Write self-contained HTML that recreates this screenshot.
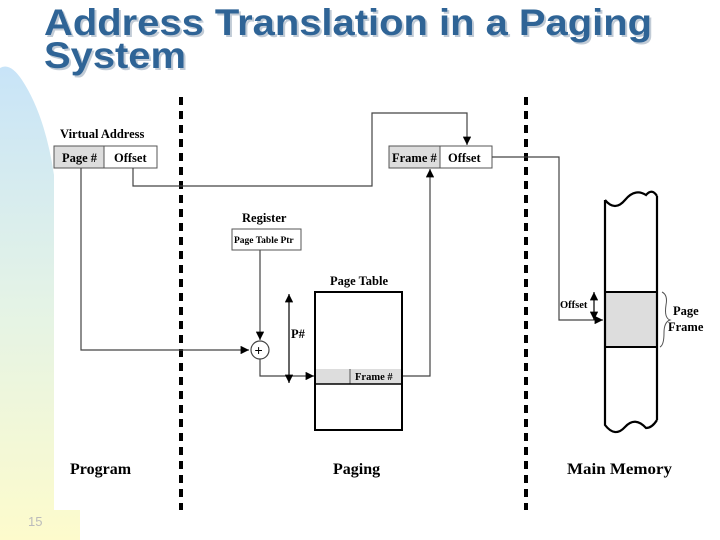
<!DOCTYPE html>
<html><head><meta charset="utf-8"><style>
html,body{margin:0;padding:0;background:#fff;}
svg{display:block;}
.t{font-family:"Liberation Serif",serif;font-weight:bold;fill:#000;}
</style></head><body>
<svg width="720" height="540" viewBox="0 0 720 540" xmlns="http://www.w3.org/2000/svg">
<defs>
<linearGradient id="g" x1="0" y1="0" x2="0" y2="1">
<stop offset="0" stop-color="#c8e4f8"/>
<stop offset="0.5" stop-color="#e4f3e6"/>
<stop offset="1" stop-color="#fdfbcc"/>
</linearGradient>
<marker id="a" viewBox="0 0 10 10" refX="10" refY="5" markerWidth="7" markerHeight="7" orient="auto-start-reverse"><path d="M0,0L10,5L0,10z" fill="#000"/></marker>
</defs>
<path d="M0,68 Q10,62 22,80 Q45,115 54,175 L54,510 L80,510 L80,540 L0,540 Z" fill="url(#g)"/>
<g font-family="Liberation Sans,sans-serif" font-weight="bold" font-size="37">
<text x="46" y="37" fill="#9ab" opacity="0.6" textLength="608" lengthAdjust="spacingAndGlyphs">Address Translation in a Paging</text>
<text x="46" y="70" fill="#9ab" opacity="0.6" textLength="142" lengthAdjust="spacingAndGlyphs">System</text>
<text x="44" y="35" fill="#2f6496" textLength="608" lengthAdjust="spacingAndGlyphs">Address Translation in a Paging</text>
<text x="44" y="68" fill="#2f6496" textLength="142" lengthAdjust="spacingAndGlyphs">System</text>
</g>
<text x="28" y="526" font-family="Liberation Sans,sans-serif" font-size="13" fill="#bbb">15</text>
<g stroke="#000" stroke-width="4" stroke-dasharray="8,6">
<line x1="181" y1="97" x2="181" y2="510"/>
<line x1="526" y1="97" x2="526" y2="510"/>
</g>
<text class="t" x="60" y="138" font-size="12.5">Virtual Address</text>
<rect x="54" y="146" width="50" height="22" fill="#ddd" stroke="#555"/>
<rect x="104" y="146" width="53" height="22" fill="#fff" stroke="#555"/>
<text class="t" x="62" y="162" font-size="12.5">Page #</text>
<text class="t" x="114" y="162" font-size="12.5">Offset</text>
<rect x="389" y="146" width="51" height="22" fill="#ddd" stroke="#555"/>
<rect x="440" y="146" width="52" height="22" fill="#fff" stroke="#555"/>
<text class="t" x="392" y="162" font-size="12.5">Frame #</text>
<text class="t" x="448" y="162" font-size="12.5">Offset</text>
<g fill="none" stroke="#444" stroke-width="1.2">
<polyline points="133,168 133,186 372,186 372,113 467,113 467,145" marker-end="url(#a)"/>
<polyline points="81,168 81,350 249,350" marker-end="url(#a)"/>
<polyline points="260,250 260,340" marker-end="url(#a)"/>
<polyline points="260,359 260,376 314,376" marker-end="url(#a)"/>
<polyline points="402,376 430,376 430,169" marker-end="url(#a)"/>
<polyline points="492,157 559,157 559,320 603,320" marker-end="url(#a)"/>
</g>
<line x1="289" y1="294" x2="289" y2="383" stroke="#000" stroke-width="1.2" marker-start="url(#a)" marker-end="url(#a)"/>
<circle cx="260" cy="350" r="9" fill="#fff" stroke="#444" stroke-width="1.2"/>
<text x="254.5" y="355" font-family="Liberation Sans,sans-serif" font-size="14">+</text>
<text class="t" x="242" y="222" font-size="12.5">Register</text>
<rect x="232" y="229" width="69" height="21" fill="#fff" stroke="#555"/>
<text class="t" x="234" y="243" font-size="9.5">Page Table Ptr</text>
<text class="t" x="291" y="338" font-size="12.5">P#</text>
<text class="t" x="330" y="285" font-size="12.5">Page Table</text>
<rect x="315" y="369" width="87" height="15" fill="#ddd"/>
<line x1="350" y1="369" x2="350" y2="384" stroke="#555"/>
<line x1="315" y1="384" x2="402" y2="384" stroke="#000" stroke-width="1.5"/>
<text class="t" x="355" y="380" font-size="10.5">Frame #</text>
<rect x="315" y="292" width="87" height="138" fill="none" stroke="#000" stroke-width="2"/>
<rect x="605" y="293" width="52" height="54" fill="#ddd"/>
<path d="M605,200 Q615,212 625,200 T646,195 Q652,188 657,196 M605,200 L605,425 Q615,438 625,427 T646,428 Q652,428 657,420 M657,196 L657,420" fill="none" stroke="#000" stroke-width="2.2"/>
<line x1="605" y1="292" x2="657" y2="292" stroke="#000" stroke-width="2"/>
<line x1="605" y1="347" x2="657" y2="347" stroke="#000" stroke-width="2"/>
<line x1="594" y1="292" x2="594" y2="320" stroke="#000" stroke-width="1.2" marker-start="url(#a)" marker-end="url(#a)"/>
<text class="t" x="560" y="308" font-size="10.5">Offset</text>
<path d="M662,292 Q668,295 666,305 Q664,318 670,320 Q664,322 664,333 Q664,345 660,347" fill="none" stroke="#555" stroke-width="1"/>
<text class="t" x="673" y="315" font-size="12.5">Page</text>
<text class="t" x="668" y="331" font-size="12.5">Frame</text>
<text class="t" x="70" y="474" font-size="16">Program</text>
<text class="t" x="333" y="474" font-size="16">Paging</text>
<text class="t" x="567" y="474" font-size="16" textLength="105" lengthAdjust="spacingAndGlyphs">Main Memory</text>
</svg>
</body></html>
